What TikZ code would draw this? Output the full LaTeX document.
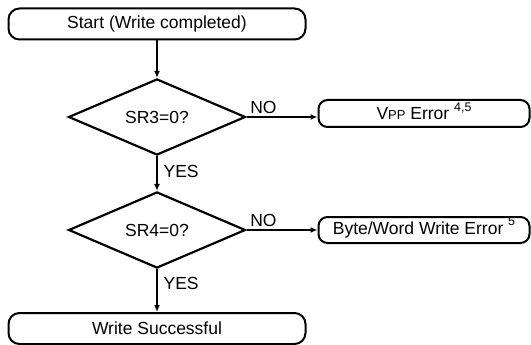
\documentclass[tikz,border=0pt]{standalone}
\usepackage{fontspec}
\setmainfont{Liberation Sans}
\usetikzlibrary{shapes.geometric,arrows.meta}

\newcommand{\supnote}[2][9pt]{\raisebox{#1}[0pt][0pt]{\fontsize{12.5}{13}\selectfont #2}}
\newcommand{\smallpp}{{\fontsize{13}{14}\selectfont PP}}

\begin{document}
\begin{tikzpicture}[x=1pt,y=-1pt,
  every node/.style={font=\fontsize{17.5}{20}\selectfont},
  term/.style={draw, line width=2pt, rounded corners=11pt, minimum width=297pt, minimum height=31pt, inner sep=0pt},
  errbox/.style={draw, line width=2pt, rounded corners=9pt, minimum width=211pt, minimum height=26pt, inner sep=0pt},
  test/.style={draw, diamond, line width=2.2pt, minimum width=177pt, minimum height=70pt, inner sep=0pt},
  flow/.style={-{Latex[length=7pt,width=6pt]}, line width=1.3pt},
  tag/.style={inner sep=3pt}]

\useasboundingbox (0,0) rectangle (531,345);

\node [term] (start) at (157,24) {Start (Write completed)};
\node [test] (sr3) at (157,117) {SR3=0?};
\node [test] (sr4) at (157,230) {SR4=0?};
\node [term] (done) at (157,328.5) {Write Successful};

\node [errbox, minimum height=27pt] (vpp) at (424,113.5) {\raisebox{-3pt}{V\smallpp{} Error \supnote[8pt]{4,5}}};
\node [errbox] (bwe) at (424,230) {Byte/Word Write Error \supnote{5}};

\draw [flow] (start) -- (sr3);
\draw [flow] (sr3.east) -- node [tag, pos=0, anchor=south west] (no1) {NO} (vpp.west |- sr3.east);
\draw [flow] (sr3) -- node [tag, pos=0, anchor=north west, xshift=3pt, yshift=-5pt] (yes1) {YES} (sr4);
\draw [flow] (sr4.east) -- node [tag, pos=0, anchor=south west] (no2) {NO} (bwe.west |- sr4.east);
\draw [flow] (sr4) -- node [tag, pos=0, anchor=north west, xshift=3pt, yshift=-4pt] (yes2) {YES} (done);

\end{tikzpicture}
\end{document}
